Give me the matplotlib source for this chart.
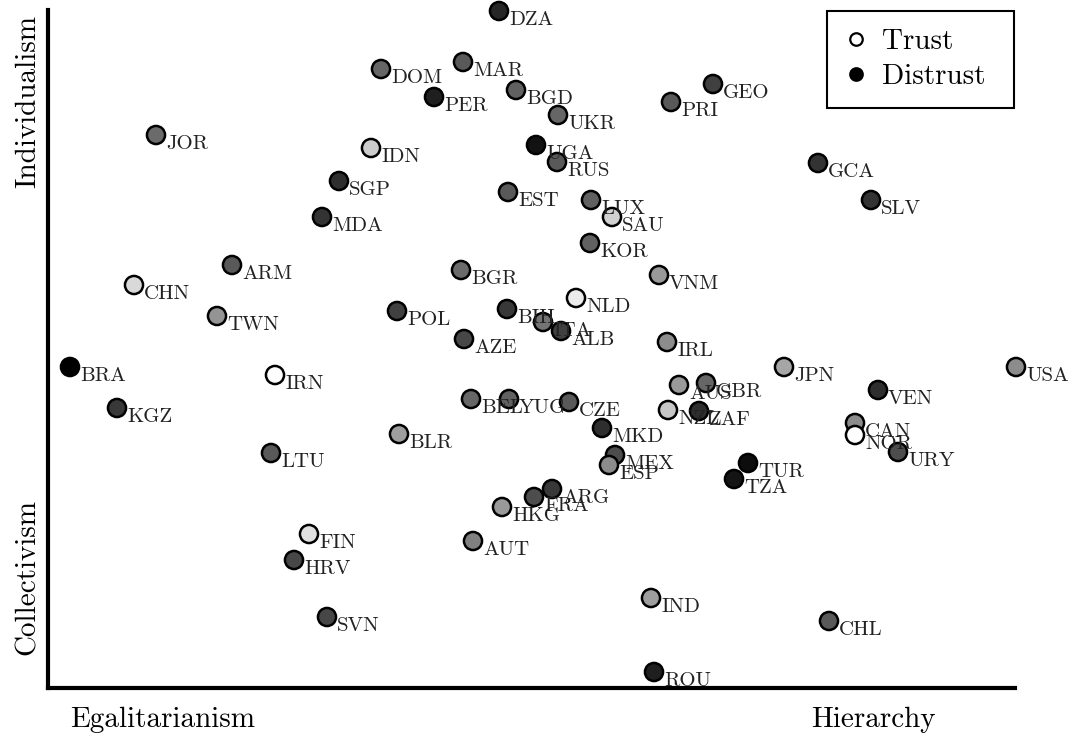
import matplotlib
matplotlib.use('Agg')
import matplotlib.pyplot as plt
from matplotlib.lines import Line2D

plt.rcParams['font.family'] = 'serif'
plt.rcParams['font.serif'] = ['cmr10']
plt.rcParams['axes.unicode_minus'] = False

# country codes, egalitarian->hierarchy score, collectivism->individualism score, trust (1 = trust, 0 = distrust)
countries = ['DZA', 'DOM', 'MAR', 'PER', 'BGD', 'UKR', 'PRI', 'GEO', 'JOR', 'IDN',
             'UGA', 'RUS', 'GCA', 'SGP', 'EST', 'LUX', 'SAU', 'SLV', 'MDA', 'KOR',
             'ARM', 'BGR', 'VNM', 'CHN', 'NLD', 'TWN', 'POL', 'BIH', 'ITA', 'ALB',
             'AZE', 'IRL', 'BRA', 'IRN', 'JPN', 'USA', 'AUS', 'GBR', 'VEN', 'KGZ',
             'BEL', 'YUG', 'CZE', 'NZL', 'ZAF', 'CAN', 'NOR', 'MKD', 'BLR', 'URY',
             'LTU', 'MEX', 'ESP', 'TUR', 'TZA', 'ARG', 'FRA', 'HKG', 'FIN', 'AUT',
             'HRV', 'IND', 'SVN', 'CHL', 'ROU']
hierarchy = [451, 333, 415, 386, 468, 510, 623, 665, 108, 323,
             488, 509, 770, 291, 460, 543, 564, 823, 274, 542,
             184, 413, 611, 86, 528, 169, 349, 459, 495, 513,
             416, 619, 22, 227, 736, 968, 631, 658, 830, 69,
             423, 461, 521, 620, 651, 807, 807, 554, 351, 850,
             223, 567, 561, 700, 686, 504, 486, 454, 261, 425,
             246, 603, 279, 781, 606]
individualism = [677, 619, 626, 591, 598, 573, 586, 604, 553, 540,
                 543, 526, 525, 507, 496, 488, 471, 488, 471, 445,
                 423, 418, 413, 403, 390, 372, 377, 379, 366, 357,
                 349, 346, 321, 313, 321, 321, 303, 305, 298, 280,
                 289, 289, 286, 278, 277, 265, 253, 260, 254, 236,
                 235, 233, 223, 225, 209, 199, 191, 181, 154, 147,
                 128, 90, 71, 67, 16]
trust = [0.15, 0.40, 0.35, 0.12, 0.38, 0.40, 0.35, 0.25, 0.42, 0.80,
         0.07, 0.35, 0.20, 0.18, 0.35, 0.38, 0.82, 0.20, 0.20, 0.38,
         0.35, 0.42, 0.60, 0.85, 0.92, 0.58, 0.25, 0.22, 0.45, 0.25,
         0.28, 0.55, 0.00, 1.00, 0.65, 0.55, 0.60, 0.40, 0.18, 0.22,
         0.40, 0.38, 0.35, 0.78, 0.18, 0.55, 1.00, 0.18, 0.62, 0.30,
         0.35, 0.30, 0.55, 0.05, 0.08, 0.22, 0.30, 0.60, 0.88, 0.50,
         0.28, 0.62, 0.28, 0.35, 0.12]

fig = plt.figure(figsize=(10.7, 7.37), dpi=100)
ax = fig.add_axes([48 / 1070, 49 / 737, 967 / 1070, 678 / 737])

colors = [str(t) for t in trust]
ax.scatter(hierarchy, individualism, s=170, c=colors, edgecolors='black',
           linewidths=1.8, zorder=3, clip_on=False)
for name, x, y in zip(countries, hierarchy, individualism):
    ax.annotate(name, (x, y), xytext=(10, -14), textcoords='offset pixels',
                ha='left', va='baseline', fontsize=15, color='#222222',
                zorder=4, annotation_clip=False)

ax.set_xlim(0, 967)
ax.set_ylim(0, 678)
ax.set_xticks([])
ax.set_yticks([])
for side in ['top', 'right']:
    ax.spines[side].set_visible(False)
for side in ['left', 'bottom']:
    ax.spines[side].set_linewidth(3)

fig.text(163 / 1070, 1 - 727 / 737, 'Egalitarianism', fontsize=21, ha='center', va='baseline')
fig.text(873 / 1070, 1 - 727 / 737, 'Hierarchy', fontsize=21, ha='center', va='baseline')
fig.text(28 / 1070, 1 - 101 / 737, 'Individualism', fontsize=21, rotation=90, ha='center', va='center')
fig.text(28 / 1070, 1 - 577 / 737, 'Collectivism', fontsize=21, rotation=90, ha='center', va='center')

handles = [Line2D([], [], marker='o', ls='', markersize=9, markerfacecolor='white',
                  markeredgecolor='black', markeredgewidth=1.6, label='Trust'),
           Line2D([], [], marker='o', ls='', markersize=9, markerfacecolor='black',
                  markeredgecolor='black', markeredgewidth=1.6, label='Distrust')]
leg = fig.legend(handles=handles, loc='upper left', mode='expand',
                 bbox_to_anchor=(827 / 1070, 0.5, 187 / 1070, 1 - 11 / 737 - 0.5),
                 fontsize=21, fancybox=False, framealpha=1, edgecolor='black',
                 handletextpad=0.5, handlelength=0.8, borderpad=0.6, labelspacing=0.3,
                 borderaxespad=0.0)
leg.get_frame().set_linewidth(1.5)
leg.set_zorder(10)

fig.savefig('out.png', dpi=100)
